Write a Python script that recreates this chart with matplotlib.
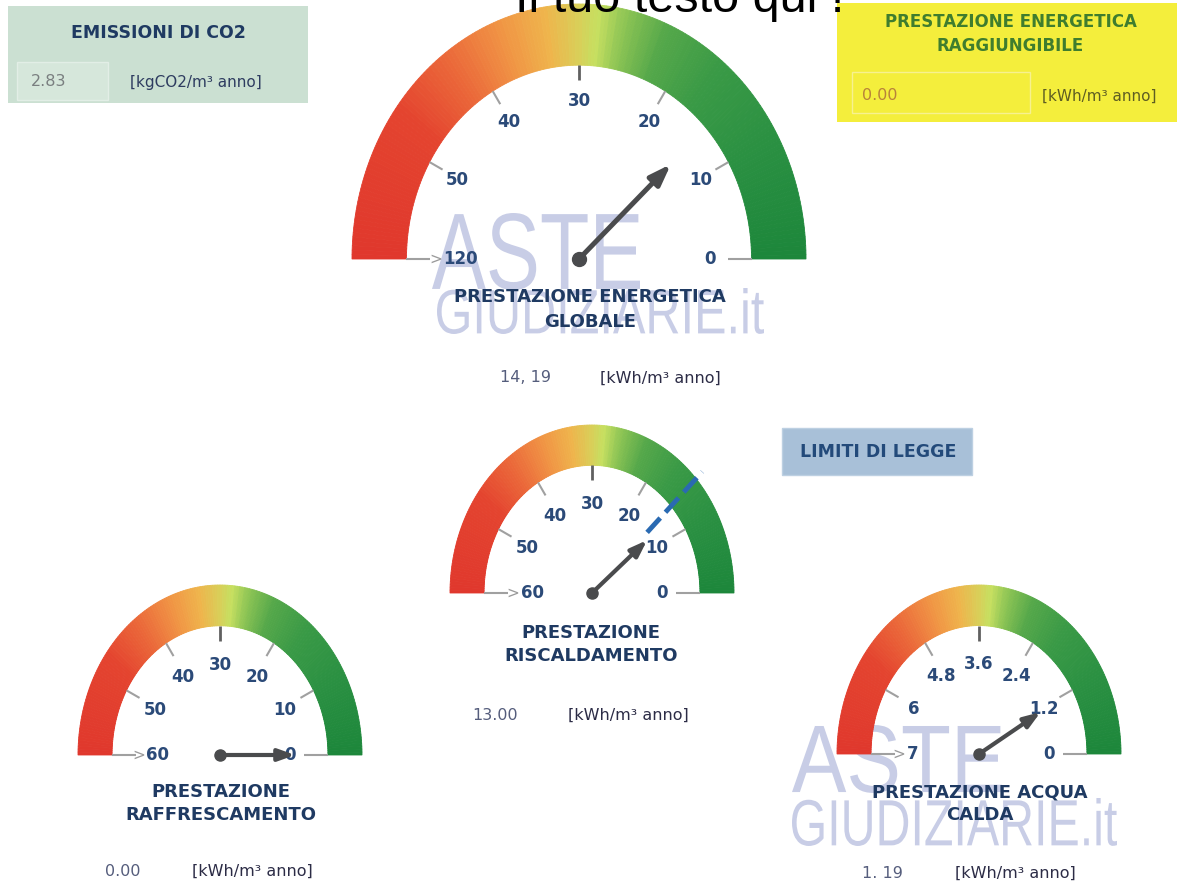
import numpy as np
import matplotlib
matplotlib.use('Agg')
import matplotlib.pyplot as plt
from matplotlib.patches import Wedge, Rectangle, PathPatch
from matplotlib.colors import LinearSegmentedColormap
from matplotlib.textpath import TextPath
from matplotlib.font_manager import FontProperties
from matplotlib.transforms import Affine2D

W, H = 1177, 884

# --- data ---
gauge_titles = [['PRESTAZIONE ENERGETICA', 'GLOBALE'],
                ['PRESTAZIONE', 'RISCALDAMENTO'],
                ['PRESTAZIONE', 'RAFFRESCAMENTO'],
                ['PRESTAZIONE ACQUA', 'CALDA']]
gauge_values = [14.19, 13.00, 0.00, 1.19]
gauge_value_text = ['14, 19', '13.00', '0.00', '1. 19']
unit_text = '[kWh/m\u00b3 anno]'
scale_globale = [0, 10, 20, 30, 40, 50, 120]
scale_riscaldamento = [0, 10, 20, 30, 40, 50, 60]
scale_raffrescamento = [0, 10, 20, 30, 40, 50, 60]
scale_acqua = [0, 1.2, 2.4, 3.6, 4.8, 6, 7]
scales = [scale_globale, scale_riscaldamento, scale_raffrescamento, scale_acqua]
limite_riscaldamento = 14.3
tick_angles = [0, 30, 60, 90, 120, 150, 180]

co2_value = '2.83'
co2_unit = '[kgCO2/m\u00b3 anno]'
raggiungibile_value = '0.00'

# --- layout (pixels of the picture) ---
# cx, cy, rx, ry, needle length, needle width, pivot size, head size, label r, end label r
gauge_layout = [(579, 259, 227, 255, 0.55, 3.6, 10, 14, 0.62, 0.52),
                (592, 593, 142, 168, 0.50, 3.0, 8, 11, 0.53, 0.42),
                (220, 755, 142, 170, 0.53, 3.0, 8, 11, 0.53, 0.44),
                (979, 754, 142, 169, 0.50, 3.0, 8, 11, 0.53, 0.47)]
title_pos = [(590, 297, 322), (591, 633, 656), (221, 792, 815), (980, 792, 815)]
value_pos = [(525, 378), (495, 715), (123, 871), (882, 873)]
unit_pos = [(660, 378), (628, 715), (252, 871), (1015, 873)]

navy = '#1f3a62'
label_col = '#2b4a78'
needle_col = '#4a4b4d'

cmap = LinearSegmentedColormap.from_list('gauge', [
    (0.00, '#e0382d'), (0.20, '#e4442f'), (0.30, '#eb6a3a'), (0.38, '#f09344'),
    (0.45, '#efb44c'), (0.50, '#d9cf58'), (0.53, '#c6df60'), (0.57, '#8cc454'),
    (0.63, '#55a84a'), (0.72, '#3a9a46'), (0.85, '#2a9042'), (1.00, '#1d873b')])

fig = plt.figure(figsize=(W / 100, H / 100), dpi=100)
fig.patch.set_facecolor('white')

bg = fig.add_axes([0, 0, 1, 1], zorder=0)
bg.set_xlim(0, W)
bg.set_ylim(H, 0)
bg.set_axis_off()


def watermark(text, x0, x1, ytop, ybot):
    tp = TextPath((0, 0), text, size=1, prop=FontProperties(family='Liberation Sans'))
    ext = tp.get_extents()
    sx = (x1 - x0) / ext.width
    sy = (ybot - ytop) / ext.height
    tr = Affine2D().translate(-ext.x0, -ext.y0).scale(sx, -sy).translate(x0, ybot)
    bg.add_patch(PathPatch(tr.transform_path(tp), fc='#c8cde6', ec='none', zorder=1))


watermark('ASTE', 432, 640, 213, 290)
watermark('GIUDIZIARIE.it', 437, 764, 288, 334)
watermark('ASTE', 792, 1002, 725, 793)
watermark('GIUDIZIARIE.it', 792, 1117, 798, 846)

# top-left box
bg.add_patch(Rectangle((8, 6), 300, 97, fc='#cbe0d2', ec='none', zorder=2))
bg.add_patch(Rectangle((17, 62), 91, 38, fc='#d6e7db', ec='#e2eee6', lw=1, zorder=2))
bg.text(158, 33, 'EMISSIONI DI CO2', ha='center', va='center', fontsize=12.5,
        fontweight='bold', color=navy, zorder=3)
bg.text(49, 82, co2_value, ha='center', va='center', fontsize=11.5, color='#7a7f80', zorder=3)
bg.text(196, 82, co2_unit, ha='center', va='center', fontsize=11, color='#2e3c60', zorder=3)

# top-right box
bg.add_patch(Rectangle((837, 3), 345, 119, fc='#f4ee3c', ec='none', zorder=2))
bg.add_patch(Rectangle((852, 72), 178, 41, fc='none', ec='#f7f190', lw=1, zorder=2))
bg.text(1011, 22, 'PRESTAZIONE ENERGETICA', ha='center', va='center', fontsize=12,
        fontweight='bold', color='#3f7d2e', zorder=3)
bg.text(1010, 46, 'RAGGIUNGIBILE', ha='center', va='center', fontsize=12,
        fontweight='bold', color='#3f7d2e', zorder=3)
bg.text(880, 96, raggiungibile_value, ha='center', va='center', fontsize=11.5,
        color='#b8823a', zorder=3)
bg.text(1099, 96, unit_text, ha='center', va='center', fontsize=11, color='#5e5d22', zorder=3)

# limiti di legge
bg.add_patch(Rectangle((782, 428), 190, 47, fc='#a8c0d8', ec='#bdd0e2', lw=1, zorder=2))
bg.text(878, 452, 'LIMITI DI LEGGE', ha='center', va='center', fontsize=12.5,
        fontweight='bold', color='#234a7a', zorder=3)

# titles, values, units under the gauges
for lines, (tx, y1, y2), (vx, vy), (ux, uy), vtxt in zip(gauge_titles, title_pos, value_pos,
                                                        unit_pos, gauge_value_text):
    bg.text(tx, y1, lines[0], ha='center', va='center', fontsize=13, fontweight='bold',
            color=navy, zorder=3)
    bg.text(tx, y2, lines[1], ha='center', va='center', fontsize=13, fontweight='bold',
            color=navy, zorder=3)
    bg.text(vx, vy, vtxt, ha='center', va='center', fontsize=11.5, color='#555d7c', zorder=3)
    bg.text(ux, uy, unit_text, ha='center', va='center', fontsize=11.5, color='#2c2c46', zorder=3)


def draw_gauge(layout, scale, value, limit=None, r_in=0.76):
    cx, cy, rx, ry, nlen, nlw, pms, hms, r_lab, r_end = layout
    px, ptop, pbot = 1.15, 1.08, 0.2
    ax = fig.add_axes([(cx - px * rx) / W, (H - cy - pbot * ry) / H,
                       2 * px * rx / W, (ptop + pbot) * ry / H], zorder=1)
    ax.set_xlim(-px, px)
    ax.set_ylim(-pbot, ptop)
    ax.set_axis_off()
    ax.patch.set_alpha(0)

    # colour band, drawn as many thin slices
    n = 180
    edges = np.linspace(180, 0, n + 1)
    for i in range(n):
        col = cmap(i / (n - 1))
        ax.add_patch(Wedge((0, 0), 1, edges[i + 1], edges[i], width=1 - r_in,
                           fc=col, ec=col, lw=0.6))

    for a, v in zip(tick_angles, scale):
        t = np.radians(a)
        c, s = np.cos(t), np.sin(t)
        L = 24 if a in (0, 180) else 15
        col, lw = ('#606060', 2.0) if a == 90 else ('#a0a0a0', 1.5)
        ax.plot([r_in * c, c * (r_in * rx - L) / rx], [r_in * s, s * (r_in * ry - L) / ry],
                color=col, lw=lw, solid_capstyle='butt')
        r = r_end if a == 180 else (r_lab * 0.93 if a == 0 else r_lab)
        txt = ax.text(r * c, r * s, '{:g}'.format(v), ha='center', va='center', fontsize=12,
                      fontweight='bold', color=label_col)
        if a == 180:
            ax.annotate('>', xy=(0, 0.5), xycoords=txt, xytext=(-1, 0),
                        textcoords='offset points', ha='right', va='center',
                        fontsize=11, color='#9a9a9a')

    if limit is not None:
        t = np.radians(np.interp(limit, scale, tick_angles))
        c, s = np.cos(t), np.sin(t)
        ax.plot([0.53 * c, 1.06 * c], [0.53 * s, 1.06 * s], color='#2a6ab2', lw=3.5,
                dashes=(4, 1.6), solid_capstyle='butt')

    t = np.radians(np.interp(value, scale, tick_angles))
    tip = (nlen * np.cos(t), nlen * np.sin(t))
    ax.annotate('', xy=tip, xytext=(0, 0),
                arrowprops=dict(arrowstyle='-|>,head_length=0.9,head_width=0.32',
                                color=needle_col, lw=nlw, shrinkA=0, shrinkB=0,
                                mutation_scale=hms))
    ax.plot(0, 0, 'o', ms=pms, color=needle_col)
    return ax


for k in range(4):
    draw_gauge(gauge_layout[k], scales[k], gauge_values[k],
               limit=limite_riscaldamento if k == 1 else None)

fig.text(515 / W, (H - 12) / H, 'Il tuo testo qui !', fontsize=35,
         family='Liberation Sans', color='black', ha='left', va='baseline')

fig.savefig('out.png', dpi=100)
